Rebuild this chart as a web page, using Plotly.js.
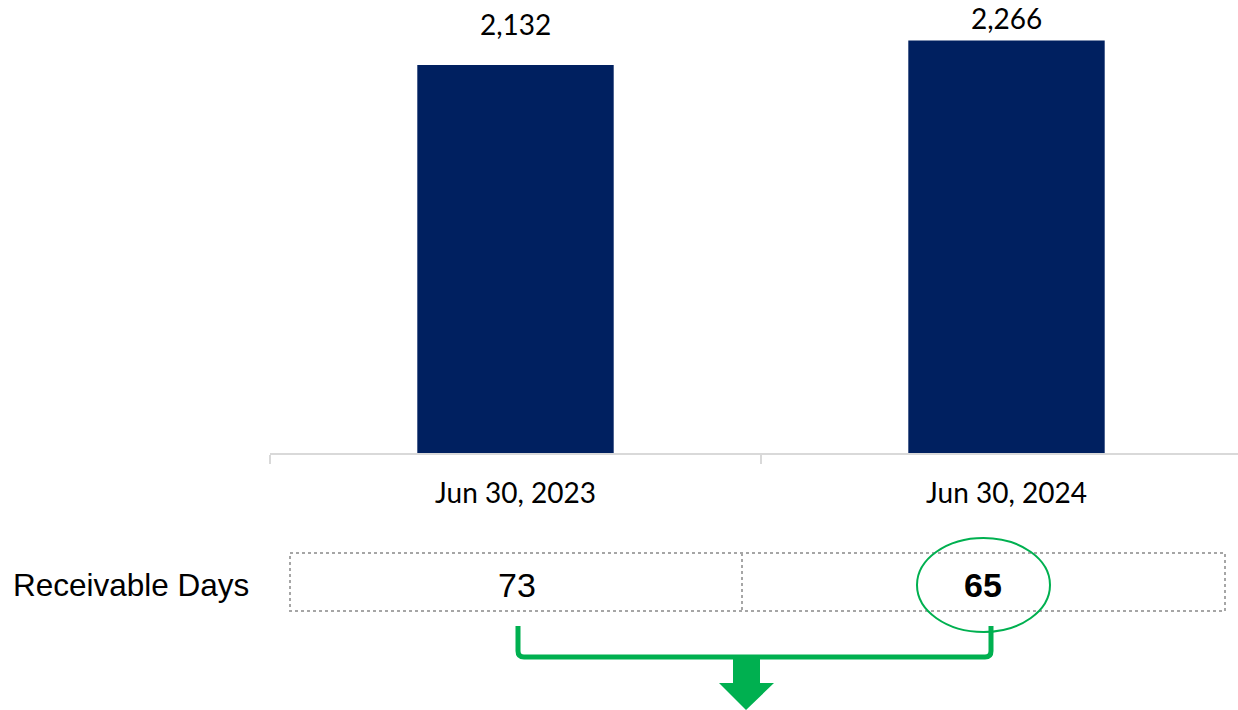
<!DOCTYPE html>
<html>
<head>
<meta charset="utf-8">
<script src="https://cdn.plot.ly/plotly-3.0.1.min.js"></script>
<style>html,body{margin:0;padding:0;background:#fff;overflow:hidden;}</style>
</head>
<body>
<div id="chart" style="width:1238px;height:710px;"></div>
<script>
// ---- data ----
const categories = ["Jun 30, 2023", "Jun 30, 2024"];
const receivables = [2132, 2266];
const barLabels = ["2,132", "2,266"];
const rowLabel = "Receivable Days";
const receivableDays = [73, 65];

// ---- layout helpers (pixel -> paper) ----
const W = 1238, H = 710, ML = 270, MT = 0, MB = 257, MR = 0;
const PW = W - ML - MR, PH = H - MT - MB;
const px = x => (x - ML) / PW;
const py = y => (H - MB - y) / PH;

const green = "#00b050";
const navy = "#002060";

const shapes = [
  // table border (dotted)
  {type:"rect", xref:"paper", yref:"paper", x0:px(290), x1:px(1225), y0:py(553), y1:py(611),
   line:{color:"#a6a6a6", width:2, dash:"dot"}, fillcolor:"rgba(0,0,0,0)"},
  {type:"line", xref:"paper", yref:"paper", x0:px(742), x1:px(742), y0:py(553), y1:py(611),
   line:{color:"#a6a6a6", width:2, dash:"dot"}},
  // highlight ellipse
  {type:"circle", xref:"paper", yref:"paper", x0:px(917), x1:px(1050), y0:py(538), y1:py(632),
   line:{color:green, width:2}},
  // bracket
  {type:"path", xref:"paper", yref:"paper",
   path:`M ${px(518)} ${py(626)} L ${px(518)} ${py(651)} Q ${px(518)} ${py(657)} ${px(524)} ${py(657)} L ${px(985)} ${py(657)} Q ${px(991)} ${py(657)} ${px(991)} ${py(651)} L ${px(991)} ${py(626)}`,
   line:{color:green, width:5}},
  // down arrow
  {type:"path", xref:"paper", yref:"paper",
   path:`M ${px(733)} ${py(657)} L ${px(760)} ${py(657)} L ${px(760)} ${py(683)} L ${px(774)} ${py(683)} L ${px(746)} ${py(710)} L ${px(719)} ${py(683)} L ${px(733)} ${py(683)} Z`,
   fillcolor:green, line:{width:0}}
];

const barLabelShift = [22, 4];
const annotations = categories.map((c, i) => ({
  x: c, y: receivables[i], xref:"x", yref:"y", text: barLabels[i], showarrow:false,
  yanchor:"bottom", yshift: barLabelShift[i],
  font:{family:"Lato, 'Open Sans', sans-serif", size:28, color:"#000"}
}));
annotations.push({
  xref:"paper", yref:"paper", x:px(131), y:py(585), text: rowLabel, showarrow:false,
  xanchor:"center", yanchor:"middle",
  font:{family:"'Liberation Sans', Arial, sans-serif", size:31.5, color:"#000"}
});
const dayX = [517, 983];
receivableDays.forEach((d, i) => {
  annotations.push({
    xref:"paper", yref:"paper", x:px(dayX[i]), y:py(585),
    text: i === 1 ? `<b>${d}</b>` : String(d), showarrow:false,
    xanchor:"center", yanchor:"middle",
    font:{family:"'Liberation Sans Narrow', 'Arial Narrow', 'Liberation Sans', sans-serif", size:34, color:"#000"}
  });
});

const yMax = (H - MB) / ((453 - 65) / receivables[0]);

Plotly.newPlot("chart", [{
  type:"bar", x: categories, y: receivables,
  marker:{color: navy}, hoverinfo:"skip"
}], {
  width: W, height: H,
  margin:{l:ML, r:MR, t:MT, b:MB, pad:0},
  paper_bgcolor:"#fff", plot_bgcolor:"#fff",
  bargap: 0.6,
  showlegend:false,
  xaxis:{
    type:"category", range:[-0.5, -0.5 + PW / 491],
    tickson:"boundaries", ticks:"outside", ticklen:9, tickcolor:"#d9d9d9", tickwidth:2,
    showline:true, linecolor:"#d9d9d9", linewidth:2, showgrid:false, zeroline:false,
    tickfont:{family:"Lato, 'Open Sans', sans-serif", size:28, color:"#000"},
    ticklabelstandoff: 14, fixedrange:true
  },
  yaxis:{ range:[0, yMax], visible:false, showgrid:false, zeroline:false, fixedrange:true },
  shapes, annotations
}, {displayModeBar:false, staticPlot:true});
</script>
</body>
</html>
